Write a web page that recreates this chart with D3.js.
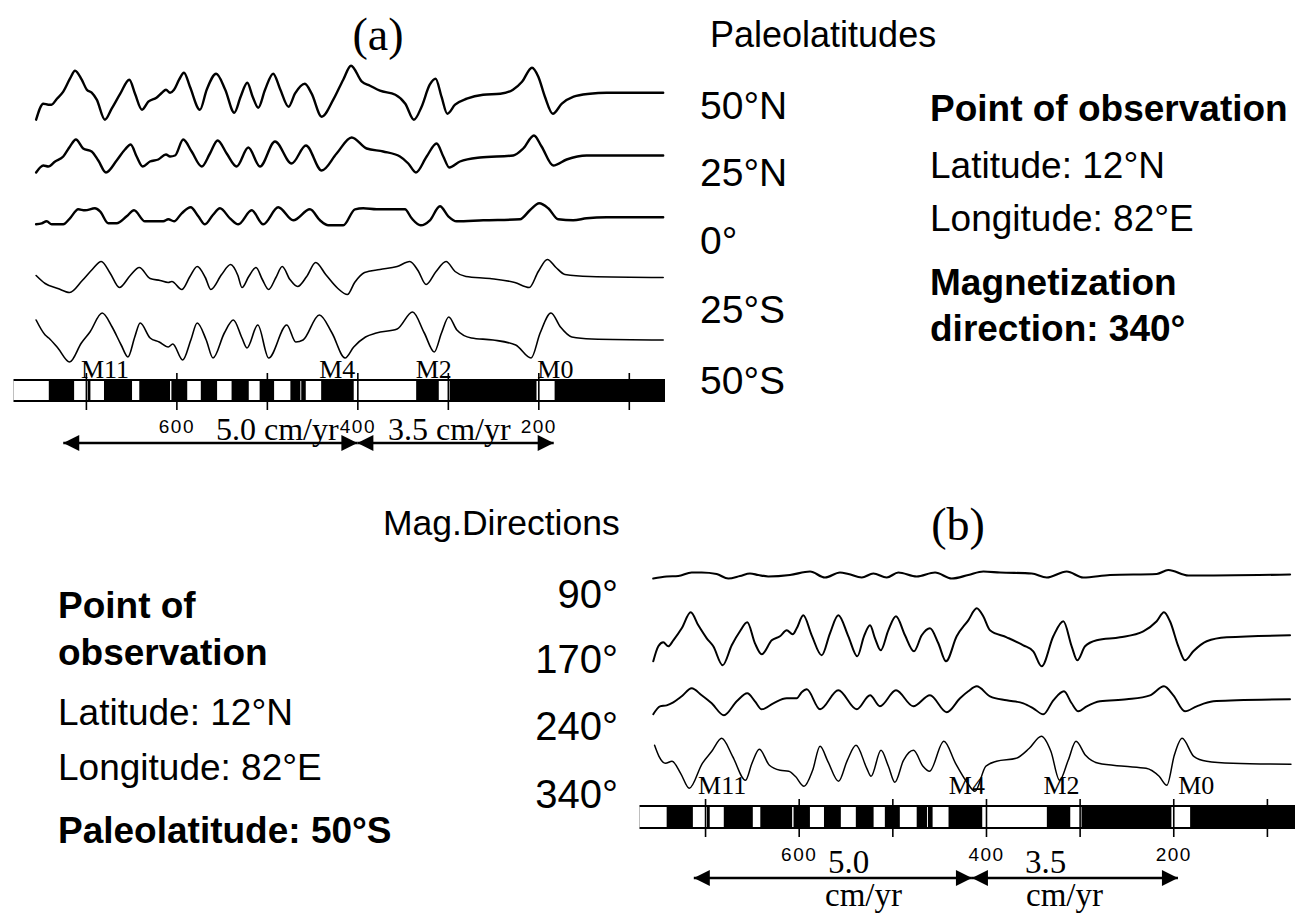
<!DOCTYPE html>
<html><head><meta charset="utf-8">
<script src="https://cdn.jsdelivr.net/npm/d3@7"></script>
<style>body{margin:0;background:#fff}svg{display:block;background:#fff}</style>
</head><body><svg id="chart" width="1295" height="918"></svg>
<script>
// ---------- DATA (distance in km along profile, anomaly amplitude in relative units) ----------
const paleoLabels = ["50°N", "25°N", "0°", "25°S", "50°S"];
const dirLabels = ["90°", "170°", "240°", "340°"];

const curve50N = [[755,-27],[747,-11],[741.5,-12],[738,-12],[732,-6],[725,1],[717.6,14],[712,22],[704.6,13],[699,3],[693.6,0],[688,-7],[679,-27],[671.5,-16],[662,-1],[652,13],[645.7,-1],[638,-17],[631,-9],[622,-5],[616,0],[611.5,3],[607,0],[602.6,3],[597,13],[591.6,20],[585,6],[574,-17],[566.5,3],[556,19],[546,3],[536,-20],[529,-4],[521.6,10],[515.7,-4],[509.5,-15],[502,3],[493,19],[485.5,4],[476,-14],[469,-1],[458,9],[450.5,-1],[439.4,-24],[426.6,-7],[415.6,13],[407,27],[395,11],[386,7],[375,2],[358,-2],[347,-11],[337.5,-27],[329,-14],[320,8],[313.5,14],[307,-4],[300.6,-21],[292,-12],[279,-6],[261,-2],[242,-1],[228,3],[218,11],[207,25],[200,16],[192.7,-4],[184,-21],[174,-11],[161,-4],[143,-1],[124.5,0],[62,0]];
const curve25N = [[755,-17],[747,-10],[741.5,-11],[734,-6],[725,-1],[717.6,9],[711,16],[703,7],[693.6,4],[686.3,-5],[677.8,-17],[666,-5],[656.8,6],[650.5,11],[643.9,-1],[637.2,-11],[629.2,-6],[620,-4],[611.5,1],[607,-1],[601.5,0],[592.4,16],[583.1,4],[572,-11],[562.9,2],[554.4,15],[544.4,2],[533.4,-11],[520.5,8],[507.6,-11],[491,14],[472.6,-8],[456.8,10],[439.4,-15],[422.9,2],[406.3,18],[389.7,7],[371.4,4],[352.9,-1],[343.7,-8],[335.2,-17],[323.4,-1],[312.4,12],[305,-1],[298.4,-12],[286.6,-6],[264.5,-2],[227.7,0],[216.7,7],[204.8,20],[196.4,9],[183.5,-10],[168.7,-4],[146.6,0],[62,0]];
const curve0 = [[755,-7],[748.8,-6],[743.3,-4],[737.8,-7],[725,-7],[717.6,-1],[708.4,8],[701,7],[690,9],[684.4,6],[675.2,-6],[666,-6],[654.9,1],[646.8,7],[634.7,-4],[614.5,-4],[608.9,-2],[602.6,-4],[594.1,4],[584.2,10],[575.8,1],[568.4,-7],[559.9,2],[551.8,9],[540.8,-1],[531.6,-7],[516.8,7],[504,-7],[487.4,10],[470.8,-3],[452.4,8],[441.3,-3],[432.1,-8],[415.6,-8],[402.6,8],[393.5,9],[378.7,8],[347.4,8],[340,-1],[330,-8],[319.8,-3],[308.7,11],[299.5,1],[290.3,-4],[260.9,-3],[220.3,-2],[209.3,7],[199,14],[189,9],[178,-2],[161.4,-3],[146.6,-1],[124.5,0],[62,0]];
const curve25S = [[755,2],[745,-6],[731,-11],[718,-15],[704,-3],[693,8],[683,16],[673,4],[663,-10],[651,2],[641,10],[629,-1],[618,-3],[609,-5],[605,-4],[594,-12],[585,1],[577,11],[568,0],[562,-12],[550,3],[540,13],[532,2],[527.5,-10],[520,1],[512,10],[505,-2],[498,-12],[490,0],[483,11],[474.5,-2],[466,-9],[456,1],[446,15],[435,3],[421.5,-11],[411,-17],[403,-5],[392,5],[375,8],[356,11],[342,16],[333,7],[324,-7],[313,6],[302,16],[292,6],[280,1],[253.5,-1],[226,-5],[210,-10],[200,6],[190,18],[180.5,10],[170.6,3],[143,1],[62,0]];
const curve50S = [[755,20],[745,5],[741,2],[731,-8],[718,-22],[705,-3],[695.5,8],[682,27],[671,13],[661,-5],[653.5,-17],[646,3],[640,17],[629,2],[619,-2],[609,-7],[604,-4],[593,-20],[584,0],[577,17],[567,0],[559.5,-18],[547,7],[537,20],[527.5,2],[522,-8],[510,15],[498,-18],[478,15],[468,-2],[460,0],[442,25],[428,7],[413.6,-18],[404,-7],[391,3],[379,7],[356,11],[339,28],[326,7],[315,-12],[307,7],[299,23],[290,10],[274,2],[250,0],[225,-5],[208,-18],[198,7],[186,27],[175.6,13],[163,3],[141,1],[62,0]];

const curve90 = [[755.3,-4],[741,-2],[728.6,-1.5],[714.3,2],[703.6,2],[687.6,0.5],[675.2,-4],[662.7,-1.5],[652,1],[643.1,-0.5],[632.5,-2],[609.3,-0.5],[587.9,3],[571.9,-3],[555.9,2],[547,0.5],[532.7,-3],[520.3,1],[506,-3],[493.6,2],[474,-2],[454.4,2],[436.6,-4],[418.9,-0.5],[402.8,3],[385,2],[351.2,1],[335.1,-3],[313.8,3],[296.1,-3],[267.6,-0.5],[217.7,0.5],[205.3,4.5],[183.9,-1],[75.3,0]];
const curve170 = [[755.3,-26],[749.9,-11],[744.6,-7],[739.2,-11],[733.9,-5],[724.9,7],[715.3,23],[707.2,10],[698.2,-3],[691.2,-11],[681.2,-30],[671.5,-10],[662.7,4],[654.9,13],[646.7,-8],[639.5,-19],[628.8,-5],[620,-1],[612.8,5],[606.4,1],[602.1,7],[595.1,20],[586.1,0],[575.4,-20],[566.6,2],[557.7,20],[547,-1],[537.4,-21],[530.3,-1],[523.8,10],[518.5,-3],[512.4,-15],[504.3,5],[496.1,19],[486.5,0],[476.9,-16],[468.6,0],[459.8,7],[450.9,-8],[442.7,-26],[431.3,-1],[418.9,15],[409.9,27],[402.9,19],[395.7,5],[377.9,-2],[360.1,-10],[349.5,-16],[340.5,-31],[328.1,-1],[317.4,14],[308.5,-11],[302.5,-25],[294.2,-11],[281.8,-5],[256.9,-2],[232,4],[217.7,14],[209.9,23],[203.5,14],[194.6,-11],[187.5,-25],[178.6,-16],[164.3,-6],[142.9,-2],[75.3,0]];
const curve240 = [[755.3,-15],[748.1,-7],[741,-6],[733.9,-3],[724.9,3],[714.3,11],[703.6,4],[692.9,-4],[679.8,-16],[666.2,-2],[654.9,6],[646.7,-2],[639.5,-10],[627.1,-4],[612.8,1],[602.1,1],[596.8,7],[591.4,10],[577.2,-10],[557.7,9],[538,-10],[523.8,4],[513.2,-7],[496.1,9],[477.6,-7],[459.8,4],[441.9,-13],[427.7,1],[418.9,8],[409.9,13],[395.7,3],[377.9,-1],[360.1,-4],[349.5,-9],[338.8,-15],[328.1,-1],[316.7,8],[308.5,-4],[301.4,-12],[292.4,-7],[278.2,-2],[249.7,0],[224.8,4],[209.9,13],[199.9,4],[187.5,-12],[175,-7],[157.2,-2],[132.3,-1],[75.3,0]];
const curve340 = [[753.9,19],[749.2,8],[742.2,1],[735.3,3],[726.1,-9],[716.8,-24],[702.9,1],[692.8,13],[682.2,26],[670.6,8],[656.8,-16],[649.9,1],[642,15],[631.3,-1],[619.7,-6],[610.6,-7],[603.6,-12],[594.3,-22],[585.1,-6],[577.2,18],[568.9,3],[557.4,-17],[548.1,4],[538.8,19],[527.3,-4],[522.7,-12],[512.1,14],[504.2,-2],[497.3,-18],[488.1,4],[477.4,14],[467.3,-2],[460.3,-7],[445,23],[432.5,1],[421,-17],[411.7,-27],[400.2,-2],[388.7,3],[367.7,6],[353.7,16],[340.8,28],[330.7,13],[321.4,-16],[312.2,4],[303.9,23],[293.7,9],[279.8,1],[252.1,-2],[229,-4],[215.1,-12],[206.8,-21],[198.9,9],[190.6,26],[178.1,8],[164.3,3],[136.5,1],[74.3,0]];

// normal-polarity (white) blocks of the reversal time scale, km [from, to]
const polarityNormal = [[780,741],[713,698],[695,680],[649,641],[607,605.5],[588,573],[555,539],[520,508],[492,474],[463,462],[457,440],[404,335],[310,298],[202,182]];
const tickKm = [700, 600, 500, 400, 300, 200, 100];
const tickLabelKm = [600, 400, 200];
const anomalyNames = ["M11", "M4", "M2", "M0"];
const anomalyKm = [700, 400, 300, 200];
const rateLabels = ["5.0", "3.5"];
const rateUnit = "cm/yr";
const rateKmA = [725, 400, 183];
const rateKmB = [712, 415, 195];

// ---------- DRAWING ----------
const svg = d3.select("#chart");
const serif = "'Liberation Serif','Times New Roman',Times,serif";
const sans = "'Liberation Sans',Arial,Helvetica,sans-serif";

const defs = svg.append("defs");
defs.append("marker").attr("id", "ah").attr("viewBox", "0 0 10 10")
  .attr("refX", 10).attr("refY", 5).attr("markerUnits", "userSpaceOnUse")
  .attr("markerWidth", 19).attr("markerHeight", 16).attr("orient", "auto-start-reverse")
  .append("path").attr("d", "M0,0 L10,5 L0,10 Z").attr("fill", "#000");

function panel(cfg) {
  const x = d3.scaleLinear().domain(cfg.domain).range(cfg.range);
  const g = svg.append("g");
  cfg.curves.forEach((c, i) => {
    const y = d3.scaleLinear().domain([-40, 40]).range([cfg.baselines[i] + 40, cfg.baselines[i] - 40]);
    const line = d3.line().x(d => x(d[0])).y(d => y(d[1])).curve(d3.curveMonotoneX);
    g.append("path").datum(c.slice().sort((a, b) => b[0] - a[0])).attr("d", line)
      .attr("fill", "none").attr("stroke", "#000").attr("stroke-width", cfg.widths[i])
      .attr("stroke-linejoin", "round").attr("stroke-linecap", "round");
  });
  // polarity bar
  const [d0, d1] = cfg.domain;
  g.append("rect").attr("x", x(d0)).attr("width", x(d1) - x(d0))
    .attr("y", cfg.barTop).attr("height", cfg.barH).attr("fill", "#000");
  g.selectAll("rect.nrm").data(polarityNormal).join("rect").attr("class", "nrm")
    .attr("x", d => x(Math.min(d[0], d0)))
    .attr("width", d => x(d[1]) - x(Math.min(d[0], d0)))
    .attr("y", cfg.barTop + 2).attr("height", cfg.barH - 4).attr("fill", "#fff");
  // ticks
  const axis = d3.axisBottom(x).tickValues(tickKm).tickSize(cfg.barH + 14)
    .tickPadding(cfg.tickPad).tickFormat(d => tickLabelKm.includes(d) ? d : "");
  const ag = g.append("g").attr("transform", `translate(0,${cfg.barTop - 6})`).call(axis);
  ag.select(".domain").remove();
  ag.selectAll(".tick line").attr("stroke", "#000").attr("stroke-width", 1.6);
  ag.selectAll(".tick text").attr("font-family", sans).attr("font-size", 19)
    .attr("letter-spacing", 1.5).attr("fill", "#000");
  // anomaly names
  const offs = cfg.nameOffsets;
  g.selectAll("text.anom").data(anomalyNames).join("text").attr("class", "anom")
    .attr("x", (d, i) => x(anomalyKm[i]) + offs[i][0])
    .attr("text-anchor", (d, i) => offs[i][1])
    .attr("y", cfg.barTop + cfg.nameDy)
    .attr("font-family", serif).attr("font-size", 26).text(d => d);
  // spreading-rate arrows
  const rk = cfg.rateKm;
  [[rk[0], rk[1]], [rk[1], rk[2]]].forEach(seg => {
    g.append("line").attr("x1", x(seg[0])).attr("x2", x(seg[1]))
      .attr("y1", cfg.arrowY).attr("y2", cfg.arrowY)
      .attr("stroke", "#000").attr("stroke-width", 2.6)
      .attr("marker-start", "url(#ah)").attr("marker-end", "url(#ah)");
  });
  return { x, g };
}

const A = panel({
  domain: [780, 60], range: [13.5, 665],
  curves: [curve50N, curve25N, curve0, curve25S, curve50S],
  baselines: [92.7, 155.5, 217.3, 277.5, 340],
  widths: [2.4, 2.4, 2.4, 1.6, 1.6],
  barTop: 379, barH: 23, tickPad: 10, nameDy: -1,
  nameOffsets: [[-5, "start"], [-2, "end"], [4, "end"], [-1, "start"]],
  rateKm: rateKmA, arrowY: 443
});
const B = panel({
  domain: [770, 70], range: [639.5, 1295],
  curves: [curve90, curve170, curve240, curve340],
  baselines: [574.5, 635.3, 699.3, 764.3],
  widths: [2.2, 2.0, 1.9, 1.5],
  barTop: 805, barH: 24, tickPad: 11, nameDy: -11,
  nameOffsets: [[-7, "start"], [-1, "end"], [0, "end"], [5, "start"]],
  rateKm: rateKmB, arrowY: 878
});

// rate labels
function txt(x, y, s, opt = {}) {
  return svg.append("text").attr("x", x).attr("y", y)
    .attr("font-family", opt.family || sans).attr("font-size", opt.size || 37)
    .attr("font-weight", opt.weight || "normal")
    .attr("text-anchor", opt.anchor || "start").attr("fill", "#000").text(s);
}
txt(216, 440, rateLabels[0] + " " + rateUnit, { family: serif, size: 32 });
txt(388, 440, rateLabels[1] + " " + rateUnit, { family: serif, size: 32 });
txt(828, 873, rateLabels[0], { family: serif, size: 33 });
txt(825, 906, rateUnit, { family: serif, size: 33 });
txt(1025, 873, rateLabels[1], { family: serif, size: 33 });
txt(1026, 906, rateUnit, { family: serif, size: 33 });

// panel titles
txt(378, 50, "(a)", { family: serif, size: 46, anchor: "middle" });
txt(958, 540, "(b)", { family: serif, size: 46, anchor: "middle" });

// panel (a) labels
txt(710, 47, "Paleolatitudes", { size: 36 });
const paleoY = [119, 186, 254, 323, 394];
paleoLabels.forEach((s, i) => txt(700, paleoY[i], s, { size: 39 }));
txt(930, 121, "Point of observation", { weight: "bold" });
txt(930, 178, "Latitude: 12°N");
txt(930, 231, "Longitude: 82°E");
txt(930, 295, "Magnetization", { weight: "bold" });
txt(930, 341, "direction: 340°", { weight: "bold" });

// panel (b) labels
txt(383, 535, "Mag.Directions", { size: 35.5 });
const dirY = [608, 673, 740, 808];
dirLabels.forEach((s, i) => txt(618, dirY[i], s, { anchor: "end", size: 40 }));
txt(58, 618, "Point of", { weight: "bold" });
txt(58, 665, "observation", { weight: "bold" });
txt(58, 725, "Latitude: 12°N");
txt(58, 780, "Longitude: 82°E");
txt(58, 843, "Paleolatitude: 50°S", { weight: "bold" });
</script></body></html>
